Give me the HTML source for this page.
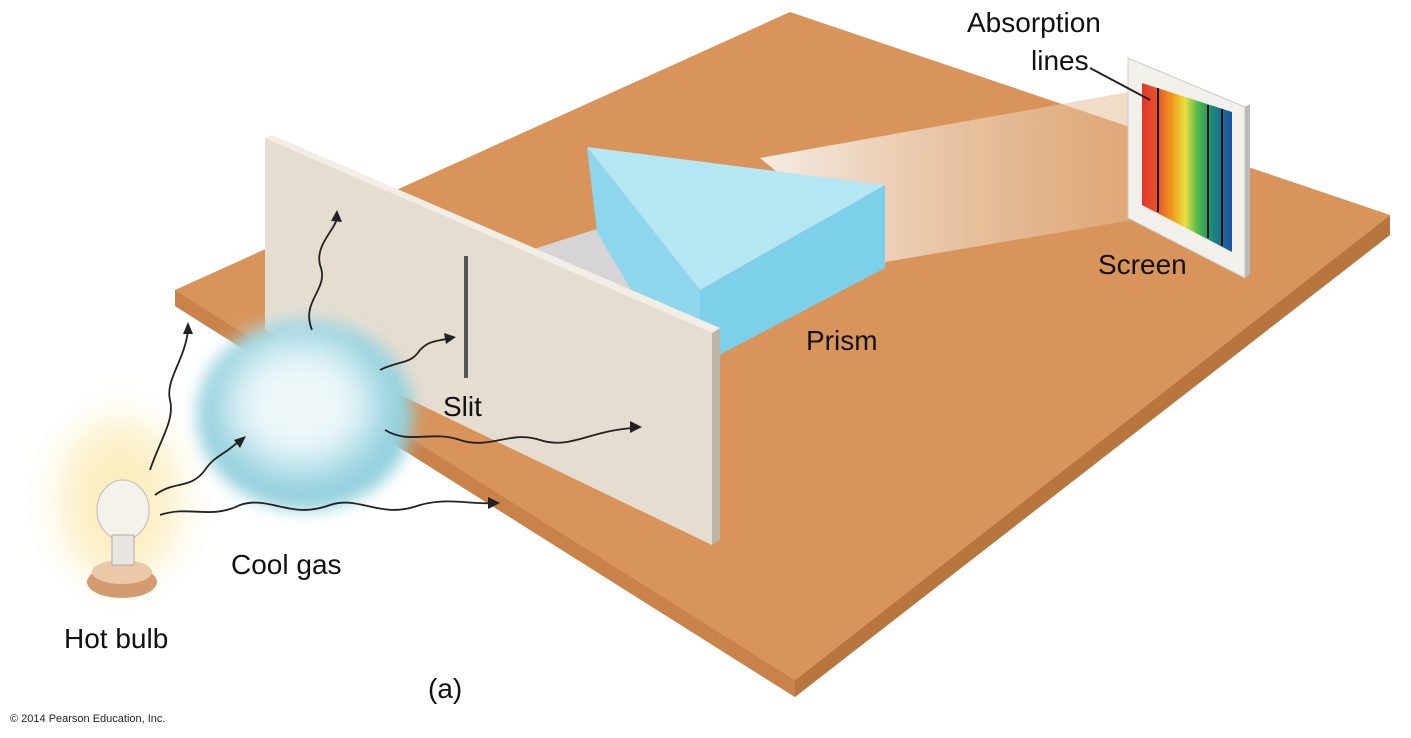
<!DOCTYPE html>
<html><head><meta charset="utf-8"><style>
html,body{margin:0;padding:0;background:#fff;}
svg{display:block;font-family:"Liberation Sans",Arial,sans-serif;}
</style></head><body>
<svg width="1411" height="738" viewBox="0 0 1411 738" xmlns="http://www.w3.org/2000/svg">
<defs>
<filter id="blur8" x="-50%" y="-50%" width="200%" height="200%"><feGaussianBlur stdDeviation="8"/></filter>
<filter id="blur20" x="-100%" y="-100%" width="300%" height="300%"><feGaussianBlur stdDeviation="20"/></filter>
<linearGradient id="spec" x1="0" y1="0" x2="1" y2="0">
<stop offset="0" stop-color="#e0362a"/><stop offset="0.18" stop-color="#e8562a"/>
<stop offset="0.35" stop-color="#f0a020"/><stop offset="0.48" stop-color="#e8e040"/>
<stop offset="0.62" stop-color="#50b848"/><stop offset="0.78" stop-color="#1a8a7a"/>
<stop offset="1" stop-color="#2050a8"/></linearGradient>
<linearGradient id="beam" x1="0" y1="0" x2="1" y2="0">
<stop offset="0" stop-color="#f6f2ec" stop-opacity="0.95"/><stop offset="1" stop-color="#e4b890" stop-opacity="0.5"/></linearGradient>
</defs>
<!-- glow of bulb -->
<ellipse cx="120" cy="500" rx="60" ry="80" fill="#fbeec0" filter="url(#blur20)"/>
<!-- table -->
<polygon points="175,290 175,306 795,697 1390,235 1390,215 795,680" fill="#b8753e"/>
<polygon points="175,306 795,697 795,680 175,290" fill="#c9834a"/>
<polygon points="175,290 790,12 1390,215 795,680" fill="#d8945a"/>
<!-- beam slit to prism -->
<polygon points="505,258 600,228 645,308 610,318" fill="#d6d4d6"/>
<!-- beam prism to screen -->
<polygon points="760,158 1140,90 1145,218 885,262" fill="url(#beam)"/>
<!-- prism -->
<polygon points="587,147 700,290 700,365 640,305 597,232" fill="#8ed6ec"/>
<polygon points="700,290 885,185 885,268 700,365" fill="#7cd0ea"/>
<polygon points="587,147 885,185 700,290" fill="#b4e6f4"/>
<!-- panel -->
<polygon points="265,138 712,333 712,545 265,330" fill="#e4ddd0"/>
<polygon points="712,333 720,328 720,540 712,545" fill="#bdb5a6"/>
<polygon points="265,138 272,135 720,328 712,333" fill="#f2eee6"/>
<line x1="466" y1="256" x2="466" y2="378" stroke="#555" stroke-width="4"/>
<!-- screen -->
<polygon points="1128,58 1245,107 1245,278 1128,218" fill="#f2f0ea" stroke="#ccc"/>
<polygon points="1245,107 1250,104 1250,274 1245,278" fill="#bbb"/>
<polygon points="1142,83 1232,112 1232,252 1142,205" fill="url(#spec)"/>
<line x1="1158" y1="88" x2="1158" y2="212" stroke="#111" stroke-width="2"/>
<line x1="1208" y1="105" x2="1208" y2="238" stroke="#111" stroke-width="2"/>
<line x1="1222" y1="109" x2="1222" y2="246" stroke="#111" stroke-width="2"/>
<line x1="1090" y1="68" x2="1150" y2="100" stroke="#222" stroke-width="2"/>
<!-- cloud -->
<ellipse cx="305" cy="415" rx="108" ry="95" fill="#8fcfdc" filter="url(#blur8)"/>
<ellipse cx="300" cy="405" rx="75" ry="65" fill="#eef8fa" filter="url(#blur20)"/>
<!-- bulb -->
<ellipse cx="122" cy="582" rx="35" ry="16" fill="#d49a70"/>
<ellipse cx="122" cy="572" rx="30" ry="12" fill="#eac8a8"/>
<ellipse cx="123" cy="510" rx="26" ry="30" fill="#f4f2ea" stroke="#bbb"/>
<rect x="112" y="535" width="22" height="30" fill="#e8e6e0" stroke="#aaa"/>
<!-- arrows -->
<g fill="none" stroke="#222" stroke-width="1.8">
<path d="M150,470 C160,440 175,420 170,400 C165,380 185,360 188,330"/>
<path d="M155,495 C175,480 190,490 205,470 C215,455 225,455 240,440"/>
<path d="M160,515 C190,505 210,520 240,505 C270,495 290,520 330,505 C360,495 380,520 420,505 C450,497 470,505 495,503"/>
<path d="M380,370 C400,360 410,365 420,350 C430,340 435,342 450,338"/>
<path d="M385,430 C410,445 430,430 460,440 C490,450 510,430 540,440 C570,450 590,430 635,428"/>
<path d="M312,330 C300,300 330,290 320,265 C315,245 335,230 337,218"/>
</g>
<g fill="#222">
<polygon points="188,322 183,334 193,334"/><polygon points="246,436 234,440 240,448"/>
<polygon points="500,503 488,497 488,509"/><polygon points="456,337 444,333 446,344"/>
<polygon points="642,427 630,421 630,433"/><polygon points="337,210 331,221 342,222"/>
</g>
<!-- labels -->
<g fill="#111" font-size="28">
<text x="967" y="32">Absorption</text><text x="1031" y="70">lines</text>
<text x="1098" y="274">Screen</text><text x="806" y="350">Prism</text>
<text x="443" y="416">Slit</text><text x="231" y="574">Cool gas</text>
<text x="64" y="648">Hot bulb</text><text x="428" y="698">(a)</text>
</g>
<text x="10" y="722" font-size="11" fill="#222">© 2014 Pearson Education, Inc.</text>
</svg>
</body></html>
